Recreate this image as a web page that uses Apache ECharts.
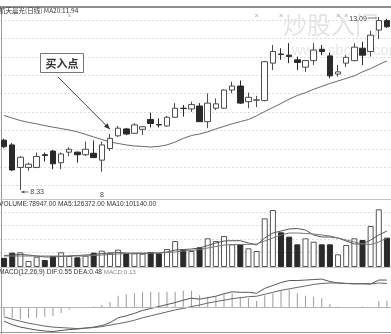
<!DOCTYPE html>
<html><head><meta charset="utf-8">
<script src="https://cdn.jsdelivr.net/npm/echarts@6/dist/echarts.min.js"></script>
<style>html,body{margin:0;padding:0;background:#fff}#c{width:391px;height:334px}</style>
</head><body><div id="c"></div>
<script>
// ---------- data ----------
const categories = ['1','2','3','4','5','6','7','8','9','10','11','12','13','14','15','16','17','18','19','20','21','22','23','24','25','26','27','28','29','30','31','32','33','34','35','36','37','38','39','40','41','42','43','44','45','46','47','48'];
const monthLabels = ['', '', '', '', '', '', '', '', '', '', '', '', '8', '', '', '', '', '', '', '', '', '', '', '', '', '', '', '', '', '', '', '', '', '', '', '', '', '', '', '', '', '', '', '', '', '', '', ''];
const opens  = [9.70,9.57,8.95,8.95,8.95,9.30,9.40,9.08,9.37,9.37,9.30,9.34,9.15,9.47,9.82,10.01,9.89,10.00,10.27,10.13,10.09,10.33,10.58,10.56,10.64,10.21,10.58,10.58,11.08,11.19,10.76,10.80,10.79,11.82,12.07,12.04,11.91,11.71,11.89,12.20,12.02,11.52,11.82,11.89,12.23,12.14,12.73,12.99];
const closes = [9.52,8.88,9.23,9.04,9.25,9.28,9.05,9.32,9.45,9.30,9.45,9.22,9.57,9.75,10.03,9.87,10.12,10.07,10.16,10.12,10.33,10.58,10.57,10.68,10.21,10.72,10.70,11.08,11.19,10.72,10.88,10.81,11.86,12.14,12.06,12.00,11.84,11.89,12.18,12.14,11.47,11.58,11.98,12.26,12.04,12.59,12.99,12.82];
const lows   = [9.48,8.85,8.33,8.86,8.93,9.11,8.90,8.90,9.26,9.08,9.26,9.21,8.83,9.40,9.79,9.84,9.87,9.84,10.05,10.05,10.07,10.31,10.35,10.48,10.20,10.03,10.53,10.56,10.99,10.70,10.58,10.61,10.77,11.63,11.91,11.82,11.63,11.58,11.77,12.04,11.40,11.45,11.71,11.87,11.77,12.00,12.48,12.79];
const highs  = [9.74,9.62,9.26,9.08,9.36,9.36,9.43,9.36,9.50,9.39,9.66,9.69,9.66,9.87,10.09,10.04,10.17,10.09,10.46,10.30,10.37,10.72,10.67,10.76,10.72,10.99,10.85,11.10,11.31,11.34,11.01,10.92,11.88,12.32,12.23,12.37,12.00,11.91,12.37,12.32,12.11,11.77,12.04,12.37,12.41,12.71,13.09,13.04];
const ma20   = [10.38,10.31,10.24,10.19,10.15,10.10,10.06,10.02,9.98,9.93,9.86,9.79,9.72,9.65,9.61,9.57,9.54,9.53,9.51,9.53,9.57,9.65,9.75,9.83,9.87,9.93,10.01,10.08,10.15,10.21,10.27,10.37,10.49,10.60,10.71,10.83,10.93,11.01,11.10,11.18,11.26,11.33,11.40,11.47,11.58,11.67,11.78,11.88];
const volumes = [23000,35800,36700,15000,25800,17500,27500,36700,27500,24200,28300,35800,40800,35800,43300,34200,34200,33300,37500,34200,45000,65000,44200,40000,49200,71700,65000,77500,56700,56700,46700,40000,121700,142500,86700,75800,56700,71700,63300,56700,56700,31700,55000,71700,67500,102500,144200,73300];
const volMa5  = [28750,30000,31250,30000,27500,25000,25000,26250,27500,28750,30000,31250,33750,35000,36250,35000,33750,33750,35000,35000,37500,42500,43750,45000,47500,53750,60000,65000,65750,65750,60000,55000,72500,85000,90000,95000,96250,92500,80000,75000,75000,72500,65000,57500,57500,67500,80000,90000];
const volMa10 = [27500,27500,27500,27500,27500,27500,27500,27500,27500,27500,27500,28750,30000,31250,32500,33750,35000,35000,35000,35000,36250,37500,40000,41250,43750,47500,51250,55000,56250,56250,56750,57500,65000,72500,80000,85000,85000,83750,82500,80000,77500,72500,67500,62500,57500,56250,62500,72500];
const macdHist = [-0.18,-0.23,-0.25,-0.23,-0.22,-0.20,-0.18,-0.12,-0.05,-0.02,-0.01,0.01,0.04,0.10,0.23,0.26,0.28,0.30,0.31,0.30,0.31,0.31,0.33,0.33,0.24,0.21,0.21,0.26,0.28,0.21,0.18,0.12,0.24,0.28,0.33,0.35,0.28,0.23,0.21,0.18,0.06,0.01,-0.01,-0.01,0.01,-0.01,0.12,0.13];
const dif = [-0.29,-0.36,-0.41,-0.44,-0.47,-0.49,-0.50,-0.48,-0.46,-0.45,-0.43,-0.41,-0.38,-0.32,-0.22,-0.18,-0.13,-0.07,-0.03,0.01,0.05,0.09,0.14,0.18,0.16,0.19,0.22,0.27,0.31,0.30,0.30,0.28,0.38,0.44,0.50,0.54,0.54,0.55,0.56,0.57,0.52,0.49,0.48,0.47,0.48,0.47,0.55,0.55];
const dea = [-0.20,-0.25,-0.29,-0.33,-0.36,-0.39,-0.41,-0.42,-0.43,-0.44,-0.43,-0.42,-0.40,-0.37,-0.34,-0.31,-0.27,-0.22,-0.18,-0.14,-0.10,-0.06,-0.03,0.01,0.04,0.08,0.11,0.14,0.17,0.19,0.21,0.22,0.26,0.30,0.34,0.37,0.40,0.43,0.46,0.48,0.49,0.49,0.48,0.48,0.47,0.47,0.49,0.48];
const markerDays = [8, 31, 34, 41, 42];
const buyIndex = 13, buyTipPrice = 10.0;
const lowIndex = 2, highIndex = 46;
const titleText = '航天晨光(日线) MA20:11.94';
const volText = 'VOLUME:78947.00 MA5:126372.00 MA10:101140.00';
const macdText = 'MACD(12,26,9) DIF:0.55 DEA:0.48 ';
const macdText2 = 'MACD:0.13';

// ---------- chart ----------
const chart = echarts.init(document.getElementById('c'), null, {renderer: 'canvas'});
const ohlc = categories.map((c, i) => [opens[i], closes[i], lows[i], highs[i]]);
const DARK = '#2a2a2a', EDGE = '#4d4d4d';
const volData = volumes.map((v, i) => ({
  value: v,
  itemStyle: closes[i] >= opens[i]
    ? {color: '#ffffff', borderColor: '#555', borderWidth: 1}
    : {color: DARK, borderColor: DARK, borderWidth: 1}
}));
const FONT = 'Liberation Sans';
const hiddenCat = (g) => ({type: 'category', gridIndex: g, data: categories, boundaryGap: true, show: false});
const gridLineAxis = (g, max) => ({type: 'value', gridIndex: g, min: 0, max: max, interval: 1,
  axisLine: {show: false}, axisTick: {show: false}, axisLabel: {show: false},
  splitLine: {show: true, lineStyle: {color: '#dcdcdc', type: [2, 2], width: 1}}});

const option = {
  animation: false,
  backgroundColor: '#ffffff',
  grid: [
    {left: -2.5, width: 400, top: 7, height: 193},
    {left: -2.5, width: 400, top: 205, height: 62},
    {left: -2.5, width: 400, top: 275, height: 57},
    {left: -2.5, width: 400, top: 20, height: 165.6},
    {left: -2.5, width: 400, top: 212, height: 40.5}
  ],
  xAxis: [
    {type: 'category', gridIndex: 0, data: categories, boundaryGap: true,
     axisLine: {show: false}, axisTick: {show: false}, splitLine: {show: false},
     axisLabel: {show: true, inside: true, margin: 1, fontSize: 7, color: '#444', fontFamily: FONT,
       interval: (i) => monthLabels[i] !== '', formatter: (v, i) => monthLabels[i]}},
    hiddenCat(1), hiddenCat(2),
    {type: 'value', gridIndex: 3, min: 0, max: 1, show: false},
    {type: 'value', gridIndex: 4, min: 0, max: 1, show: false}
  ],
  yAxis: [
    {type: 'value', gridIndex: 0, min: 8.054, max: 13.365, show: false},
    {type: 'value', gridIndex: 1, min: 0, max: 155000, show: false},
    {type: 'value', gridIndex: 2, min: -0.51, max: 0.653, show: false},
    gridLineAxis(3, 9),
    gridLineAxis(4, 3)
  ],
  series: [
    {type: 'candlestick', xAxisIndex: 0, yAxisIndex: 0, data: ohlc, barWidth: 6, z: 5,
     itemStyle: {color: '#ffffff', color0: DARK, borderColor: EDGE, borderColor0: DARK, borderWidth: 1}},
    {type: 'line', xAxisIndex: 0, yAxisIndex: 0, data: ma20, symbol: 'none', z: 4,
     lineStyle: {color: '#6a6a6a', width: 1}},
    {type: 'scatter', xAxisIndex: 0, yAxisIndex: 0, data: markerDays.map(d => [d, 13.13]), symbol: 'path://M0 0L10 10M10 0L0 10',
     symbolSize: 3, itemStyle: {color: 'none', borderColor: '#999', borderWidth: 0.8}},
    {type: 'bar', xAxisIndex: 1, yAxisIndex: 1, data: volData, barWidth: 6},
    {type: 'line', xAxisIndex: 1, yAxisIndex: 1, data: volMa5, symbol: 'none', z: 4, lineStyle: {color: '#555', width: 1}},
    {type: 'line', xAxisIndex: 1, yAxisIndex: 1, data: volMa10, symbol: 'none', z: 4, lineStyle: {color: '#777', width: 1}},
    {type: 'bar', xAxisIndex: 2, yAxisIndex: 2, data: macdHist, barWidth: 1, itemStyle: {color: '#9a9a9a'},
     markLine: {silent: true, symbol: 'none', label: {show: false}, lineStyle: {color: '#b5b5b5', width: 1, type: 'solid'},
       data: [{yAxis: 0}]}},
    {type: 'line', xAxisIndex: 2, yAxisIndex: 2, data: dif, symbol: 'none', z: 4, lineStyle: {color: '#555', width: 1}},
    {type: 'line', xAxisIndex: 2, yAxisIndex: 2, data: dea, symbol: 'none', z: 4, lineStyle: {color: '#666', width: 1}}
  ]
};
chart.setOption(option);

// ---------- annotations placed from data coordinates ----------
const tip = chart.convertToPixel({gridIndex: 0}, [buyIndex, buyTipPrice]);
const lowPt = chart.convertToPixel({gridIndex: 0}, [lowIndex, lows[lowIndex]]);
const highPt = chart.convertToPixel({gridIndex: 0}, [highIndex, highs[highIndex]]);
const arrowStart = [58, 77];
const ang = Math.atan2(tip[1] - arrowStart[1], tip[0] - arrowStart[0]);
const head = (x, y, a, len, w) => [[x, y],
  [x - len * Math.cos(a) + w * Math.sin(a), y - len * Math.sin(a) - w * Math.cos(a)],
  [x - len * Math.cos(a) - w * Math.sin(a), y - len * Math.sin(a) + w * Math.cos(a)]];

chart.setOption({graphic: [
  // watermark
  {type: 'text', x: 283, y: 25, z: -10, style: {text: '炒股入门', font: '24px "Noto Sans CJK SC"', fill: '#e4e4e4', verticalAlign: 'middle'}},
  {type: 'text', x: 292, y: 51, z: -10, style: {text: 'www.sbcxw.com', font: '15px "Liberation Sans"', fill: '#e8e8e8', verticalAlign: 'middle'}},
  // frame lines
  {type: 'line', shape: {x1: 0, y1: 7, x2: 391, y2: 7}, style: {stroke: '#222', lineWidth: 1.2}},
  {type: 'line', shape: {x1: 1.5, y1: 7, x2: 1.5, y2: 334}, style: {stroke: '#9a9a9a', lineWidth: 1}},
  {type: 'line', shape: {x1: 0, y1: 199.5, x2: 391, y2: 199.5}, style: {stroke: '#c8c8c8', lineWidth: 1}},
  {type: 'line', shape: {x1: 0, y1: 267.5, x2: 391, y2: 267.5}, style: {stroke: '#c8c8c8', lineWidth: 1}},
  {type: 'line', shape: {x1: 0, y1: 332.5, x2: 391, y2: 332.5}, style: {stroke: '#9a9a9a', lineWidth: 1}},
  // panel titles
  {type: 'text', x: -1, y: 11, style: {text: titleText, font: '6.5px "Noto Sans CJK SC"', fill: '#333', verticalAlign: 'middle'}},
  {type: 'text', x: -1, y: 204, style: {text: volText, font: '6.6px "Liberation Sans"', fill: '#333', verticalAlign: 'middle'}},
  {type: 'text', x: -1, y: 272, style: {text: '{a|' + macdText + '}{b|' + macdText2 + '}', verticalAlign: 'middle',
    rich: {a: {font: '6.6px "Liberation Sans"', fill: '#333'}, b: {font: '6.2px "Liberation Sans"', fill: '#888'}}}},
  // buy point box
  {type: 'rect', shape: {x: 40.5, y: 53.5, width: 43, height: 19}, style: {fill: '#fff', stroke: '#777', lineWidth: 1}},
  {type: 'text', x: 62, y: 63.5, style: {text: '买入点', font: 'bold 11px "Noto Sans CJK SC"', fill: '#333', align: 'center', verticalAlign: 'middle'}},
  {type: 'line', shape: {x1: arrowStart[0], y1: arrowStart[1], x2: tip[0], y2: tip[1]}, style: {stroke: '#444', lineWidth: 1}},
  {type: 'polygon', shape: {points: head(tip[0], tip[1], ang, 6, 2.5)}, style: {fill: '#333'}},
  // low label
  {type: 'line', shape: {x1: lowPt[0] + 1, y1: lowPt[1] + 2, x2: lowPt[0] + 8, y2: lowPt[1] + 2}, style: {stroke: '#555', lineWidth: 0.8}},
  {type: 'polygon', shape: {points: head(lowPt[0] + 1, lowPt[1] + 2, Math.PI, 3, 1.5)}, style: {fill: '#555'}},
  {type: 'text', x: lowPt[0] + 10, y: lowPt[1] + 2, style: {text: lows[lowIndex].toFixed(2), font: '7px "Liberation Sans"', fill: '#444', verticalAlign: 'middle'}},
  // high label
  {type: 'line', shape: {x1: highPt[0] - 11, y1: highPt[1] + 1, x2: highPt[0] - 2, y2: highPt[1] + 1}, style: {stroke: '#555', lineWidth: 0.8}},
  {type: 'text', x: highPt[0] - 12, y: highPt[1] + 2, style: {text: highs[highIndex].toFixed(2), font: '7px "Liberation Sans"', fill: '#444', align: 'right', verticalAlign: 'middle'}}
]});
</script>
</body></html>
